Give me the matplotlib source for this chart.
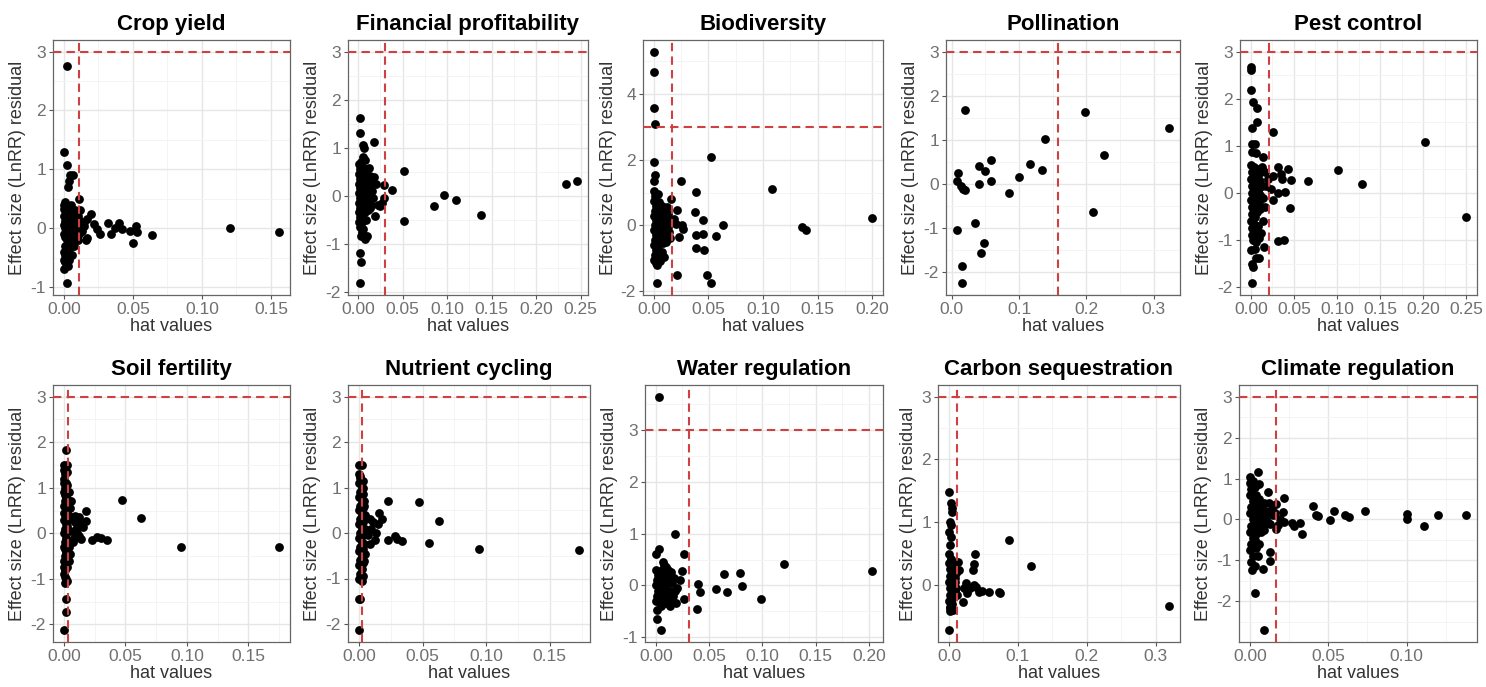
import numpy as np
import matplotlib
matplotlib.use("Agg")
import matplotlib.pyplot as plt
from matplotlib.ticker import MultipleLocator, FormatStrFormatter

plt.rcParams['font.family'] = ['Liberation Sans', 'DejaVu Sans']

titles = ["Crop yield", "Financial profitability", "Biodiversity", "Pollination", "Pest control",
          "Soil fertility", "Nutrient cycling", "Water regulation", "Carbon sequestration", "Climate regulation"]

# hat value cut-offs (vertical dashed lines); residual cut-off is 3 everywhere
cutoffs = [0.0108, 0.0307, 0.017, 0.158, 0.0208, 0.0036, 0.0025, 0.031, 0.011, 0.017]
resid_cut = 3

# ---- Crop yield
cy_x = [0.0024, 0.000, 0.0024, 0.0045, 0.0065, 0.0035, 0.0030, 0.011, 0.0144, 0.017, 0.020, 0.0216, 0.024, 0.026,
        0.017, 0.016, 0.032, 0.034, 0.037, 0.040, 0.042, 0.048, 0.052, 0.053, 0.050, 0.064, 0.120, 0.156, 0.0024,
        0.001, 0.000, 0.003, 0.006, 0.0075, 0.012, 0.010, 0.013, 0.015,
        0.000, 0.001, 0.000, 0.002, 0.001, 0.000, 0.002, 0.001, 0.000, 0.002, 0.003, 0.004, 0.003, 0.004, 0.003,
        0.004, 0.003, 0.004, 0.003, 0.005, 0.006, 0.005, 0.006, 0.005, 0.006, 0.005, 0.006, 0.007, 0.008, 0.007,
        0.008, 0.009, 0.009, 0.008, 0.001, 0.000, 0.002, 0.004, 0.007, 0.010, 0.011, 0.012, 0.001, 0.000, 0.001,
        0.002, 0.000, 0.001, 0.010, 0.009]
cy_y = [2.75, 1.29, 1.08, 0.91, 0.90, 0.80, 0.70, 0.49, 0.04, 0.15, 0.24, 0.07, -0.02, -0.10,
        -0.16, -0.21, 0.08, -0.10, 0.01, 0.08, -0.02, -0.05, 0.04, -0.07, -0.26, -0.12, 0.00, -0.06, -0.94,
        -0.58, -0.70, -0.65, -0.45, -0.30, 0.30, 0.20, -0.05, 0.10,
        0.40, 0.30, 0.20, 0.10, 0.00, -0.10, -0.20, -0.30, -0.40, -0.50, 0.35, 0.25, 0.15, 0.05, -0.05,
        -0.15, -0.25, -0.35, -0.45, 0.40, 0.30, 0.20, 0.10, 0.00, -0.10, -0.20, -0.30, 0.20, 0.10, 0.00,
        -0.08, 0.05, -0.15, 0.30, 0.45, -0.55, -0.60, -0.55, -0.20, 0.00, -0.10, 0.12, 0.12, 0.05, -0.15,
        0.25, 0.32, -0.45, -0.20, 0.25]

# ---- Financial profitability
fp_x = [0.0026, 0.0026, 0.006, 0.0065, 0.0176, 0.006, 0.008, 0.012, 0.029, 0.029, 0.027, 0.025, 0.038, 0.052,
        0.052, 0.085, 0.097, 0.110, 0.138, 0.234, 0.246, 0.0195, 0.008, 0.010, 0.0026, 0.0035, 0.0026, 0.018,
        0.020, 0.016, 0.022,
        0.001, 0.002, 0.001, 0.002, 0.001, 0.002, 0.001, 0.002, 0.001, 0.002, 0.001, 0.002, 0.001, 0.002,
        0.004, 0.005, 0.004, 0.005, 0.004, 0.005, 0.004, 0.005, 0.004, 0.005, 0.004, 0.005, 0.007, 0.008,
        0.007, 0.008, 0.007, 0.008, 0.010, 0.011, 0.010, 0.011, 0.010, 0.011, 0.013, 0.014, 0.013, 0.014,
        0.013, 0.016, 0.017, 0.015, 0.003, 0.003, 0.006, 0.009]
fp_y = [1.61, 1.31, 1.05, 1.00, 1.12, 0.81, 0.74, 0.57, 0.23, -0.05, -0.15, -0.22, 0.11, 0.52,
        -0.54, -0.21, 0.02, -0.09, -0.41, 0.25, 0.30, -0.43, -0.91, -0.84, -1.19, -1.39, -1.83, 0.38,
        0.25, 0.35, -0.20,
        0.65, 0.55, 0.45, 0.35, 0.25, 0.15, 0.05, -0.05, -0.15, -0.25, -0.35, -0.45, -0.55, -0.65,
        0.60, 0.45, 0.30, 0.20, 0.10, 0.00, -0.10, -0.20, -0.30, -0.40, -0.55, -0.75, 0.40, 0.25,
        0.10, -0.05, -0.20, -0.35, 0.55, 0.30, 0.15, -0.02, -0.18, -0.30, 0.40, 0.20, 0.05, -0.10,
        -0.25, 0.10, -0.05, -0.20, 0.70, -0.85, -0.70, -0.50]

# ---- Biodiversity
bd_x = [0.000, 0.000, 0.000, 0.0006, 0.000, 0.001, 0.000, 0.052, 0.025, 0.039, 0.021, 0.038, 0.045, 0.063,
        0.026, 0.027, 0.023, 0.039, 0.045, 0.057, 0.039, 0.046, 0.0216, 0.049, 0.052, 0.0025, 0.108, 0.136,
        0.139, 0.200, 0.016, 0.018, 0.020, 0.015, 0.012,
        0.000, 0.001, 0.000, 0.002, 0.001, 0.000, 0.002, 0.001, 0.000, 0.002, 0.001, 0.000, 0.002, 0.001,
        0.000, 0.002, 0.004, 0.005, 0.004, 0.005, 0.004, 0.005, 0.004, 0.005, 0.004, 0.005, 0.004, 0.005,
        0.004, 0.003, 0.007, 0.008, 0.007, 0.008, 0.007, 0.008, 0.007, 0.008, 0.007, 0.010, 0.011, 0.010,
        0.011, 0.010, 0.011, 0.013, 0.014, 0.013, 0.014, 0.009, 0.006]
bd_y = [5.30, 4.68, 3.59, 3.08, 1.93, 1.55, 1.34, 2.10, 1.36, 1.01, 0.46, 0.41, 0.15, 0.01,
        0.00, -0.12, -0.35, -0.29, -0.25, -0.33, -0.68, -0.75, -1.52, -1.52, -1.75, -1.77, 1.10, -0.04,
        -0.15, 0.23, 0.81, 0.20, 0.05, -0.40, 0.55,
        1.05, 0.90, 0.75, 0.60, 0.45, 0.30, 0.15, 0.00, -0.15, -0.30, -0.45, -0.60, -0.75, -0.90,
        -1.05, -1.15, 0.95, 0.70, 0.50, 0.35, 0.20, 0.05, -0.10, -0.25, -0.40, -0.55, -0.70, -0.85,
        -1.00, -1.20, 0.60, 0.40, 0.25, 0.10, -0.05, -0.20, -0.35, -0.55, -0.80, 0.45, 0.25, 0.05,
        -0.15, -0.30, -0.50, 0.35, 0.15, -0.05, -0.20, -0.95, -1.10]

# ---- Pollination
po_x = [0.0204, 0.0097, 0.0073, 0.0136, 0.017, 0.019, 0.0073, 0.0155, 0.0155, 0.034, 0.040, 0.040, 0.043,
        0.0485, 0.050, 0.058, 0.059, 0.085, 0.0995, 0.1165, 0.134, 0.138, 0.198, 0.209, 0.226, 0.323]
po_y = [1.68, 0.24, 0.07, -0.05, -0.12, -0.15, -1.05, -1.86, -2.26, -0.89, 0.41, 0.00, -1.58,
        -1.34, 0.29, 0.54, 0.07, -0.21, 0.16, 0.44, 0.31, 1.01, 1.62, -0.64, 0.66, 1.26]

# ---- Pest control
pc_x = [0.0008, 0.0008, 0.000, 0.0027, 0.0077, 0.0077, 0.0020, 0.026, 0.001, 0.005, 0.0015, 0.0065, 0.014,
        0.0315, 0.043, 0.026, 0.035, 0.036, 0.047, 0.023, 0.026, 0.0315, 0.040, 0.045, 0.0315, 0.039, 0.015,
        0.014, 0.066, 0.1015, 0.129, 0.2027, 0.250, 0.001, 0.003, 0.002, 0.0055, 0.009, 0.0045, 0.000, 0.016,
        0.018, 0.017, 0.020,
        0.000, 0.001, 0.000, 0.002, 0.001, 0.000, 0.002, 0.001, 0.000, 0.002, 0.001, 0.004, 0.005, 0.004,
        0.005, 0.004, 0.005, 0.004, 0.005, 0.004, 0.005, 0.007, 0.008, 0.007, 0.008, 0.007, 0.008, 0.007,
        0.008, 0.010, 0.011, 0.010, 0.011, 0.010, 0.011, 0.013, 0.013, 0.014, 0.012, 0.009, 0.003, 0.006]
pc_y = [2.67, 2.61, 2.19, 1.94, 1.80, 1.50, 1.38, 1.30, 1.04, 1.04, 0.87, 0.85, 0.76,
        0.55, 0.51, 0.37, 0.40, 0.30, 0.27, 0.09, -0.16, -0.01, 0.02, -0.31, -1.02, -1.00, -1.14,
        -0.59, 0.25, 0.49, 0.20, 1.09, -0.52, -1.92, -1.57, -1.50, -1.39, -1.38, -1.18, -1.21, 0.45,
        0.15, -0.30, 0.30,
        0.60, 0.45, 0.30, 0.15, 0.00, -0.15, -0.30, -0.45, -0.60, -0.75, -0.90, 0.55, 0.40, 0.25,
        0.10, -0.05, -0.20, -0.35, -0.50, -0.65, -0.85, 0.50, 0.35, 0.20, 0.05, -0.10, -0.25, -0.40,
        -0.70, 0.45, 0.25, 0.10, -0.05, -0.20, -0.35, 0.55, 0.15, -0.10, -0.85, -0.95, -1.00, -1.05]

# ---- Soil fertility
sf_x = [0.0017, 0.000, 0.003, 0.006, 0.0017, 0.0017, 0.0005, 0.0065, 0.0089, 0.0124, 0.0136, 0.0177, 0.018,
        0.016, 0.0124, 0.014, 0.0077, 0.023, 0.027, 0.030, 0.035, 0.047, 0.063, 0.095, 0.175, 0.010, 0.008,
        0.011, 0.009, 0.004, 0.005,
        0.000, 0.001, 0.000, 0.002, 0.001, 0.000, 0.002, 0.001, 0.000, 0.002, 0.001, 0.000, 0.002, 0.001,
        0.000, 0.002, 0.001, 0.000, 0.002, 0.001, 0.000, 0.002, 0.001, 0.000, 0.002, 0.001, 0.003, 0.003,
        0.003, 0.003, 0.003, 0.003, 0.003, 0.003, 0.003, 0.004, 0.004, 0.004, 0.005, 0.005, 0.000, 0.001,
        0.000, 0.001, 0.000, 0.001]
sf_y = [1.83, 1.50, 1.50, 0.70, -1.45, -1.72, -2.13, 0.35, 0.24, 0.35, 0.20, 0.28, 0.48,
        0.13, -0.05, -0.12, -0.20, -0.15, -0.09, -0.11, -0.15, 0.73, 0.34, -0.31, -0.31, 0.10, -0.10,
        0.00, 0.38, -0.60, -0.45,
        1.40, 1.30, 1.20, 1.10, 1.00, 0.90, 0.80, 0.70, 0.60, 0.50, 0.40, 0.30, 0.20, 0.10,
        0.00, -0.10, -0.20, -0.30, -0.40, -0.50, -0.60, -0.70, -0.80, -0.90, -1.00, -1.10, 1.35, 1.05,
        0.75, 0.45, 0.15, -0.15, -0.45, -0.75, -1.05, 0.90, 0.30, -0.30, 0.55, 0.05, 1.10, 0.85,
        0.45, -0.35, -0.75, -0.95]

# ---- Nutrient cycling
nc_x = [0.000, 0.002, 0.0037, 0.000, 0.001, 0.000, 0.0227, 0.047, 0.063, 0.055, 0.094, 0.173, 0.005, 0.0085,
        0.011, 0.016, 0.0146, 0.0098, 0.0073, 0.0122, 0.023, 0.028, 0.030, 0.034, 0.0085, 0.004, 0.013, 0.018,
        0.000, 0.001, 0.000, 0.002, 0.001, 0.000, 0.002, 0.001, 0.000, 0.002, 0.001, 0.000, 0.002, 0.001,
        0.000, 0.002, 0.001, 0.000, 0.002, 0.001, 0.000, 0.002, 0.001, 0.000, 0.002, 0.001, 0.003, 0.003,
        0.003, 0.003, 0.003, 0.003, 0.003, 0.003, 0.003, 0.004, 0.004, 0.004, 0.005, 0.005]
nc_y = [1.49, 1.49, 0.70, -1.44, -1.46, -2.14, 0.71, 0.69, 0.27, -0.21, -0.36, -0.37, 0.39, 0.30,
        0.24, 0.44, 0.20, 0.10, -0.05, -0.16, -0.16, -0.07, -0.12, -0.18, -0.24, -0.62, 0.00, 0.30,
        1.30, 1.20, 1.10, 1.00, 0.90, 0.80, 0.70, 0.60, 0.50, 0.40, 0.30, 0.20, 0.10, 0.00,
        -0.10, -0.20, -0.30, -0.40, -0.50, -0.60, -0.70, -0.80, -0.90, -1.00, -1.05, 1.25, 1.15, 0.85,
        0.55, 0.25, -0.05, -0.35, -0.65, -0.95, 1.00, 0.35, -0.25, 0.60, 0.10, -0.45]

# ---- Water regulation
wr_x = [0.003, 0.018, 0.003, 0.000, 0.026, 0.007, 0.010, 0.025, 0.023, 0.026, 0.040, 0.041, 0.039, 0.056,
        0.0636, 0.067, 0.079, 0.081, 0.099, 0.120, 0.203, 0.0015, 0.0015, 0.0047, 0.017, 0.020, 0.015, 0.019,
        0.000, 0.002, 0.001, 0.000, 0.002, 0.001, 0.000, 0.003, 0.004, 0.003, 0.004, 0.006, 0.007, 0.006,
        0.007, 0.009, 0.010, 0.009, 0.010, 0.012, 0.013, 0.012, 0.014, 0.015, 0.016, 0.008, 0.011, 0.005,
        0.013, 0.002, 0.018, 0.016]
wr_y = [3.65, 1.00, 0.71, 0.61, 0.61, 0.45, 0.35, 0.27, 0.10, -0.26, 0.03, -0.13, -0.45, -0.08,
        0.21, -0.12, 0.24, -0.01, -0.26, 0.42, 0.27, -0.47, -0.65, -0.87, 0.15, -0.05, -0.30, -0.35,
        0.30, 0.20, 0.10, 0.00, -0.10, -0.20, -0.30, 0.25, 0.05, -0.15, -0.35, 0.30, 0.15, -0.05,
        -0.25, 0.20, 0.00, -0.15, -0.35, 0.10, -0.10, -0.25, 0.25, 0.05, -0.20, 0.40, 0.30, -0.40,
        -0.40, -0.30, -0.10, 0.15]

# ---- Carbon sequestration
cs_x = [0.000, 0.0024, 0.005, 0.004, 0.001, 0.0034, 0.000, 0.0024, 0.0014, 0.000, 0.0034, 0.000, 0.0024,
        0.001, 0.013, 0.015, 0.022, 0.024, 0.026, 0.031, 0.036, 0.036, 0.037, 0.035, 0.039, 0.043, 0.048,
        0.058, 0.072, 0.074, 0.087, 0.119, 0.319, 0.020, 0.010, 0.012,
        0.000, 0.002, 0.001, 0.000, 0.002, 0.001, 0.000, 0.002, 0.004, 0.005, 0.004, 0.005, 0.004, 0.005,
        0.004, 0.007, 0.008, 0.007, 0.008, 0.007, 0.009, 0.009, 0.001, 0.006, 0.010, 0.003]
cs_y = [1.49, 1.30, 1.17, 1.22, 1.00, 0.96, 0.85, 0.77, 0.64, 0.50, 0.42, -0.72, -0.24,
        -0.37, 0.37, 0.24, -0.05, 0.03, -0.13, -0.05, 0.00, 0.33, 0.49, 0.24, -0.03, -0.11, -0.09,
        -0.11, -0.11, -0.13, 0.72, 0.31, -0.33, -0.27, 0.20, -0.15,
        0.35, 0.25, 0.15, 0.05, -0.05, -0.15, -0.25, -0.35, 0.30, 0.20, 0.10, 0.00, -0.10, -0.20,
        -0.30, 0.25, 0.12, 0.02, -0.08, -0.18, 0.05, -0.10, -0.42, -0.40, -0.05, 0.40]

# ---- Climate regulation
cr_x = [0.0004, 0.005, 0.0057, 0.0114, 0.012, 0.0216, 0.017, 0.021, 0.022, 0.027, 0.028, 0.032, 0.033,
        0.040, 0.042, 0.0434, 0.051, 0.054, 0.061, 0.063, 0.0735, 0.100, 0.100, 0.111, 0.120, 0.138,
        0.0127, 0.013, 0.0085, 0.0015, 0.003, 0.0093, 0.0178, 0.017, 0.015, 0.019, 0.014, 0.013, 0.010, 0.016,
        0.000, 0.001, 0.000, 0.002, 0.001, 0.000, 0.002, 0.001, 0.000, 0.002, 0.001, 0.000, 0.002, 0.001,
        0.003, 0.004, 0.003, 0.004, 0.003, 0.004, 0.003, 0.004, 0.003, 0.004, 0.003, 0.006, 0.007, 0.006,
        0.007, 0.006, 0.007, 0.006, 0.009, 0.010, 0.009, 0.010, 0.009, 0.012, 0.011, 0.005, 0.002]
cr_y = [1.04, 1.15, 0.86, 0.68, 0.41, 0.53, 0.37, 0.19, -0.06, -0.08, -0.16, -0.08, -0.36,
        0.33, 0.11, 0.09, -0.02, 0.21, 0.11, 0.07, 0.20, 0.14, 0.00, -0.15, 0.10, 0.11,
        -0.79, -1.01, -1.20, -1.24, -1.79, -2.71, -0.14, -0.24, 0.10, 0.00, 0.25, -0.10, 0.20, 0.15,
        0.90, 0.75, 0.60, 0.45, 0.30, 0.15, 0.00, -0.15, -0.30, -0.45, -0.60, -0.75, -0.90, -1.05,
        0.80, 0.60, 0.40, 0.25, 0.10, -0.05, -0.20, -0.35, -0.50, -0.70, -1.15, 0.50, 0.30, 0.15,
        0.00, -0.15, -0.30, -0.60, 0.40, 0.20, 0.05, -0.10, -0.25, 0.15, -0.05, -0.90, 0.95]

xs = [cy_x, fp_x, bd_x, po_x, pc_x, sf_x, nc_x, wr_x, cs_x, cr_x]
ys = [cy_y, fp_y, bd_y, po_y, pc_y, sf_y, nc_y, wr_y, cs_y, cr_y]

x_steps = [0.05, 0.05, 0.05, 0.1, 0.05, 0.05, 0.05, 0.05, 0.1, 0.05]
y_steps = [1, 1, 2, 1, 1, 1, 1, 1, 1, 1]

# panel boxes in pixels: left, right, top, bottom
boxes = [(53, 290, 40, 295), (348, 588, 40, 295), (643, 883, 40, 295), (946, 1180, 40, 295), (1240, 1477, 40, 295),
         (53, 290, 385, 642), (348, 590, 385, 642), (645, 883, 385, 642), (938, 1180, 385, 642), (1239, 1477, 385, 642)]

W, H = 1486, 687
fig = plt.figure(figsize=(W / 100, H / 100), dpi=100)

for i in range(10):
    l, r, t, b = boxes[i]
    ax = fig.add_axes([l / W, (H - b) / H, (r - l) / W, (b - t) / H])
    x = np.array(xs[i])
    y = np.array(ys[i])

    # ggplot style limits: 5% expansion, reference lines included
    xlo, xhi = min(x.min(), cutoffs[i]), max(x.max(), cutoffs[i])
    ylo, yhi = min(y.min(), resid_cut), max(y.max(), resid_cut)
    dx, dy = (xhi - xlo) * 0.05, (yhi - ylo) * 0.05
    ax.set_xlim(xlo - dx, xhi + dx)
    ax.set_ylim(ylo - dy, yhi + dy)

    ax.xaxis.set_major_locator(MultipleLocator(x_steps[i]))
    ax.xaxis.set_minor_locator(MultipleLocator(x_steps[i] / 2))
    ax.yaxis.set_major_locator(MultipleLocator(y_steps[i]))
    ax.yaxis.set_minor_locator(MultipleLocator(y_steps[i] / 2))
    ax.xaxis.set_major_formatter(FormatStrFormatter('%.2f' if x_steps[i] < 0.1 else '%.1f'))
    ax.yaxis.set_major_formatter(FormatStrFormatter('%d'))

    ax.grid(which='major', color='#e6e6e6', lw=1.0)
    ax.grid(which='minor', color='#f3f3f3', lw=0.6)
    ax.set_axisbelow(True)
    ax.tick_params(which='minor', length=0)
    ax.tick_params(which='major', length=3, width=0.8, color='#555555', labelcolor='#707070', labelsize=12.5, pad=2)
    for s in ax.spines.values():
        s.set_color('#666666')
        s.set_linewidth(0.9)

    ax.scatter(x, y, s=40, color='black', zorder=3, linewidths=0)
    ax.axvline(cutoffs[i], color='#cf4040', lw=1.5, ls=(0, (4, 2.5)), zorder=4)
    ax.axhline(resid_cut, color='#cf4040', lw=1.5, ls=(0, (4, 2.5)), zorder=4)

    ax.set_title(titles[i], fontsize=16, fontweight='bold', pad=7)
    ax.set_xlabel("hat values", fontsize=13, color='#333333', labelpad=1)
    ax.set_ylabel("Effect size (LnRR) residual", fontsize=13, color='#333333', labelpad=3)

fig.savefig("out.png", dpi=100)
